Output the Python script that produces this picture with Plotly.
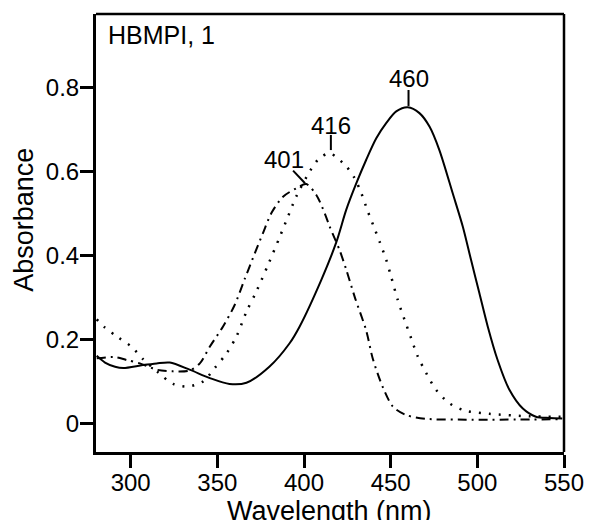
import plotly.graph_objects as go

# Solid curve (peak 460 nm)
wl_460 = [280.4, 285.2, 291, 295.7, 307, 315, 322.6, 334, 345.7, 357, 366.8, 380, 391.7, 397.5,
          410, 418.6, 424.4, 430.2, 435.9, 441.7, 447.4, 453.2, 459.9, 466.6, 472.4, 478.1,
          485.8, 491.6, 496.4, 501.2, 506, 511.7, 518.5, 526.1, 533.8, 541.5, 549]
abs_460 = [0.162, 0.146, 0.136, 0.133, 0.140, 0.144, 0.146, 0.129, 0.109, 0.095, 0.098, 0.136, 0.192, 0.232,
           0.343, 0.432, 0.510, 0.573, 0.629, 0.680, 0.716, 0.744, 0.754, 0.740, 0.708, 0.652,
           0.549, 0.470, 0.390, 0.311, 0.232, 0.152, 0.081, 0.037, 0.017, 0.014, 0.013]

# Dotted curve (peak 416 nm)
wl_416 = [280.4, 285.2, 292.8, 300.6, 307.2, 316, 324.5, 333.2, 341.8, 348.5, 355.3, 361, 366.8, 372.5,
          379.3, 386, 390.8, 395.5, 403.3, 409, 415, 424.4, 429.2, 433.1, 436.9, 440.7, 443.6, 447.5,
          450.3, 454.1, 458, 461.8, 465.7, 470.5, 476.2, 483.9, 492.5, 507, 530, 548]
abs_416 = [0.249, 0.229, 0.206, 0.183, 0.154, 0.122, 0.095, 0.089, 0.101, 0.133, 0.168, 0.208, 0.267, 0.315,
           0.379, 0.445, 0.494, 0.541, 0.601, 0.633, 0.644, 0.613, 0.585, 0.549, 0.505, 0.465, 0.434, 0.390,
           0.350, 0.295, 0.248, 0.204, 0.160, 0.121, 0.081, 0.049, 0.032, 0.024, 0.018, 0.017]

# Dash-dot curve (peak 401 nm)
wl_401 = [280.4, 291, 297.7, 305.3, 315, 324.5, 334, 339.9, 345.7, 353.3, 360, 365.8, 371.6, 376.4,
          381.2, 387.9, 395.6, 401.3, 407.1, 411.9, 414.8, 420.5, 424.4, 429.2, 435.9, 439.7, 445.5,
          451.3, 459, 470.5, 493.5, 549]
abs_401 = [0.156, 0.159, 0.152, 0.144, 0.129, 0.125, 0.127, 0.144, 0.184, 0.232, 0.283, 0.345, 0.406, 0.455,
           0.502, 0.541, 0.561, 0.571, 0.545, 0.502, 0.470, 0.414, 0.367, 0.303, 0.222, 0.155, 0.087,
           0.041, 0.021, 0.012, 0.010, 0.011]

x_ticks = [300, 350, 400, 450, 500, 550]
y_ticks = [0, 0.2, 0.4, 0.6, 0.8]
y_tick_labels = ["0", "0.2", "0.4", "0.6", "0.8"]

peak_labels = ["460", "416", "401"]
x_title = "Wavelength (nm)"
y_title = "Absorbance"

FONT = "Liberation Sans, Arial, sans-serif"

fig = go.Figure()
fig.add_trace(go.Scatter(x=wl_460, y=abs_460, mode="lines",
                         line=dict(color="black", width=2, shape="spline", smoothing=0.8)))
fig.add_trace(go.Scatter(x=wl_416, y=abs_416, mode="lines",
                         line=dict(color="black", width=2.5, shape="spline", smoothing=0.8, dash="2px,8px")))
fig.add_trace(go.Scatter(x=wl_401, y=abs_401, mode="lines",
                         line=dict(color="black", width=2, shape="spline", smoothing=0.8, dash="9px,5px,2px,5px")))

# peak marker lines
fig.add_shape(type="line", x0=460.3, x1=460.3, y0=0.757, y1=0.795, line=dict(color="black", width=2))
fig.add_shape(type="line", x0=415.5, x1=415.5, y0=0.652, y1=0.688, line=dict(color="black", width=2))
fig.add_shape(type="line", x0=393.7, x1=400.6, y0=0.603, y1=0.573, line=dict(color="black", width=2))

# top / right frame
fig.add_shape(type="line", xref="paper", yref="paper", x0=0, x1=1, y0=1, y1=1, line=dict(color="black", width=2.5))
fig.add_shape(type="line", xref="paper", yref="paper", x0=1, x1=1, y0=0, y1=1, line=dict(color="black", width=2.5))

fig.add_annotation(x=460.3, y=0.822, text=peak_labels[0], showarrow=False, font=dict(size=24, color="black", family=FONT))
fig.add_annotation(x=415.7, y=0.711, text=peak_labels[1], showarrow=False, font=dict(size=24, color="black", family=FONT))
fig.add_annotation(x=388.2, y=0.629, text=peak_labels[2], showarrow=False, font=dict(size=24, color="black", family=FONT))
fig.add_annotation(x=285.8, y=0.925, xanchor="left", text="HBMPI, 1", showarrow=False,
                   font=dict(size=25, color="black", family=FONT))

# axis titles
fig.add_annotation(xref="paper", yref="paper", x=0.498, y=-0.135, text=x_title, showarrow=False,
                   xanchor="center", yanchor="middle", font=dict(size=27, color="black", family=FONT))
fig.add_annotation(xref="paper", yref="paper", x=-0.154, y=0.530, text=y_title, showarrow=False, textangle=-90,
                   xanchor="center", yanchor="middle", font=dict(size=27, color="black", family=FONT))

fig.update_layout(
    template="none",
    width=591, height=520,
    margin=dict(l=96, r=27, t=14, b=68),
    paper_bgcolor="white", plot_bgcolor="white",
    showlegend=False,
    font=dict(family=FONT, color="black"),
)
fig.update_xaxes(range=[280, 550], tickvals=x_ticks, ticks="outside", ticklen=13, tickwidth=3,
                 tickcolor="black", showline=True, linecolor="black", linewidth=3, showgrid=False,
                 zeroline=False, automargin=False, tickfont=dict(size=24, color="black"),
                 ticklabelstandoff=-6)
fig.update_yaxes(range=[-0.067, 0.976], tickvals=y_ticks, ticktext=y_tick_labels, ticks="outside", ticklen=13,
                 tickwidth=3, tickcolor="black", showline=True, linecolor="black", linewidth=3, showgrid=False,
                 zeroline=False, automargin=False, tickfont=dict(size=24, color="black"),
                 ticklabelstandoff=-4)

fig.write_html("out.html", config={"displayModeBar": False},
               post_script="document.body.style.margin='0';document.body.style.overflow='hidden';")
